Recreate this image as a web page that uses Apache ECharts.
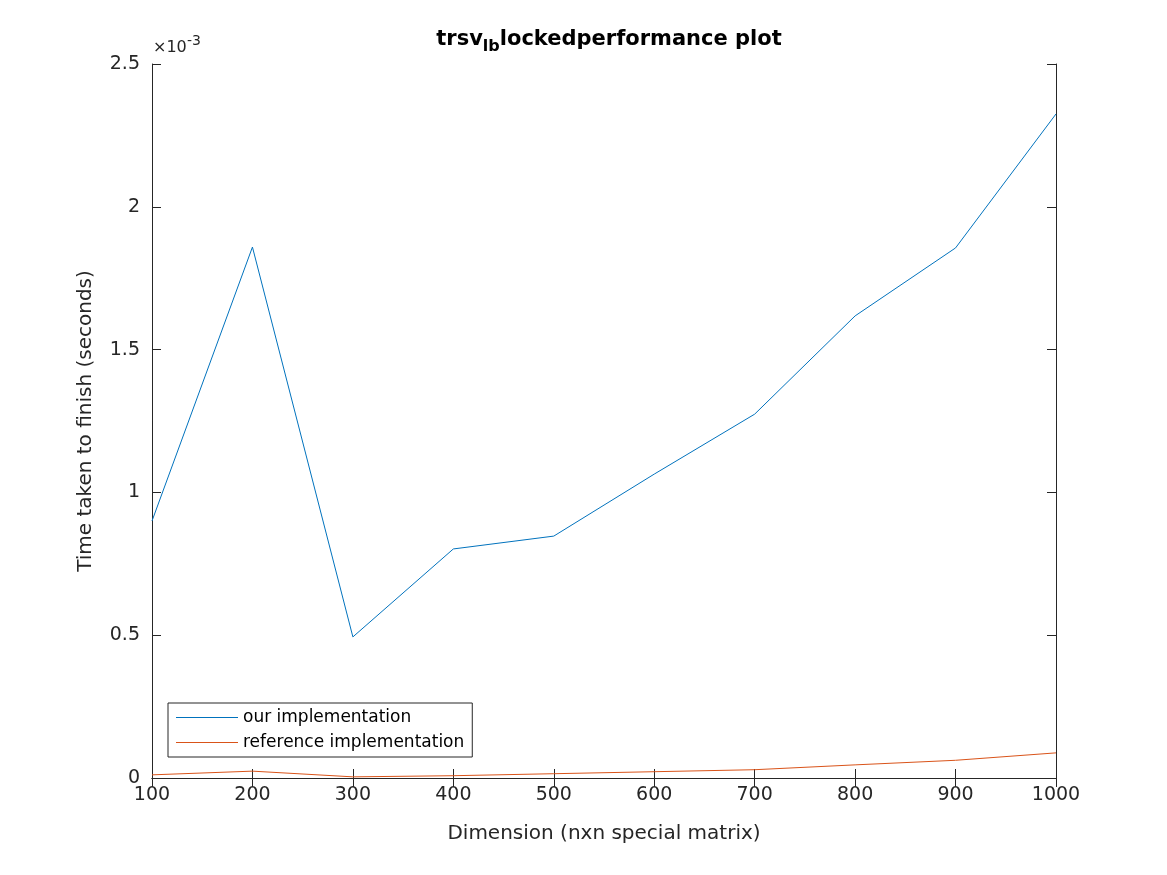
<!DOCTYPE html>
<html>
<head>
<meta charset="utf-8">
<script src="https://cdn.jsdelivr.net/npm/echarts@6/dist/echarts.min.js"></script>
<style>html,body{margin:0;padding:0;background:#fff}#root{width:1167px;height:875px}</style>
</head>
<body>
<div id="root"></div>
<script>
// values in units of 1e-3 seconds
const dims = [100, 200, 300, 400, 500, 600, 700, 800, 900, 1000];
const ours = [0.90, 1.859, 0.494, 0.802, 0.847, 1.064, 1.274, 1.618, 1.856, 2.325];
const reference = [0.011, 0.024, 0.004, 0.008, 0.015, 0.022, 0.029, 0.046, 0.062, 0.088];

const font = "DejaVu Sans";
const tickLabel = { color: "#262626", fontSize: 19, fontFamily: font };
const axisLine = { show: true, lineStyle: { color: "#262626", width: 1 } };
const inTicks = { show: true, inside: true, length: 9, lineStyle: { color: "#262626" } };

const chart = echarts.init(document.getElementById("root"));
chart.setOption({
  animation: false,
  textStyle: { fontFamily: font },
  title: {
    text: "{b|trsv}{s|lb}{b|lockedperformance plot}",
    left: 604, top: 20, textAlign: "center",
    textStyle: {
      rich: {
        b: { fontSize: 21, fontWeight: "bold", color: "#000", fontFamily: font },
        s: { fontSize: 16, fontWeight: "bold", color: "#000", fontFamily: font, padding: [14, 0, 0, 0] }
      }
    }
  },
  grid: { left: 152, right: 111, top: 64, bottom: 97 },
  legend: {
    left: 168, top: 703, orient: "vertical",
    backgroundColor: "#fff", borderColor: "#262626", borderWidth: 1, borderRadius: 0,
    padding: [6, 8, 6, 8], itemGap: 8, itemWidth: 62, itemHeight: 1,
    icon: "rect",
    textStyle: { fontSize: 17, color: "#000", fontFamily: font }
  },
  graphic: [{
    type: "text", left: 153, top: 40,
    style: { text: "×10", fontSize: 16, fill: "#262626", fontFamily: font }
  }, {
    type: "text", left: 187, top: 34,
    style: { text: "-3", fontSize: 14, fill: "#262626", fontFamily: font }
  }],
  xAxis: [{
    type: "value", min: 100, max: 1000, interval: 100,
    name: "Dimension (nxn special matrix)", nameLocation: "middle", nameGap: 46,
    nameTextStyle: { fontSize: 20, color: "#262626", fontFamily: font },
    axisLine, axisTick: inTicks, axisLabel: { ...tickLabel, margin: 8, formatter: v => String(v) },
    splitLine: { show: false }
  }, {
    type: "value", position: "top", min: 100, max: 1000, interval: 100,
    axisLine, axisTick: inTicks, axisLabel: { show: false }, splitLine: { show: false }
  }],
  yAxis: [{
    type: "value", min: 0, max: 2.5, interval: 0.5,
    name: "Time taken to finish (seconds)", nameLocation: "middle", nameGap: 56,
    nameTextStyle: { fontSize: 20, color: "#262626", fontFamily: font },
    axisLine, axisTick: inTicks, axisLabel: { ...tickLabel, margin: 12, formatter: v => String(v) },
    splitLine: { show: false }
  }, {
    type: "value", position: "right", min: 0, max: 2.5, interval: 0.5,
    axisLine, axisTick: inTicks, axisLabel: { show: false }, splitLine: { show: false }
  }],
  series: [{
    name: "our implementation", type: "line", symbol: "none",
    data: dims.map((d, i) => [d, ours[i]]),
    lineStyle: { color: "#0072BD", width: 1 }, itemStyle: { color: "#0072BD" }
  }, {
    name: "reference implementation", type: "line", symbol: "none",
    data: dims.map((d, i) => [d, reference[i]]),
    lineStyle: { color: "#D95319", width: 1 }, itemStyle: { color: "#D95319" }
  }]
});
</script>
</body>
</html>
